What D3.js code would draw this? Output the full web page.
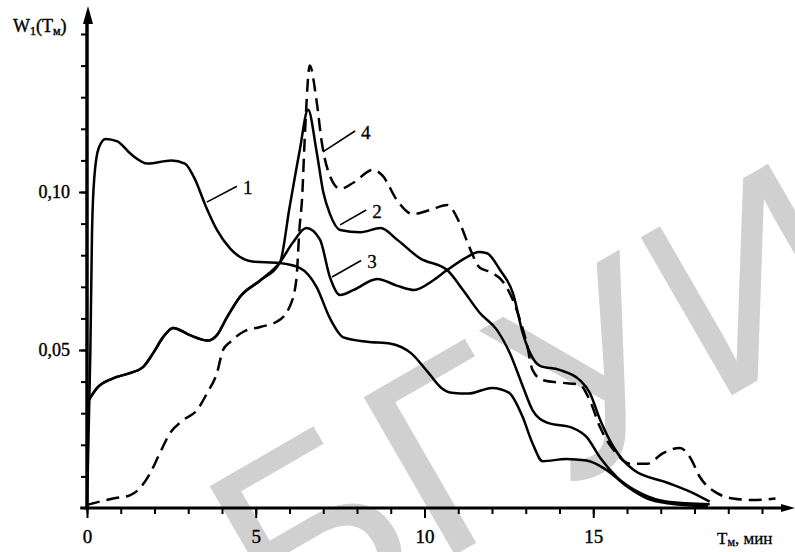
<!DOCTYPE html>
<html>
<head>
<meta charset="utf-8">
<script src="https://cdn.jsdelivr.net/npm/d3@7"></script>
<style>
  body { margin: 0; background: #fff; }
  svg { display: block; }
  text { font-family: "Liberation Serif", "Times New Roman", serif; fill: #000; }
</style>
</head>
<body>
<div class="chart"></div>
<script>
// Tick values
const xTicks = d3.range(0, 21, 1);
const xLabels = [0, 5, 10, 15];
const yTicks = d3.range(1, 16).map(d => d / 100);
const yLabels = [0.05, 0.10];

// Curves: [Tm, W1]
const curve1 = [[0, 0], [0.06, 0.03], [0.1, 0.05], [0.15, 0.088], [0.22, 0.105], [0.35, 0.114], [0.55, 0.1168],
  [0.9, 0.116], [1.3, 0.112], [1.8, 0.109], [2.5, 0.110], [2.9, 0.109], [3.2, 0.104], [3.5, 0.096],
  [3.85, 0.088], [4.25, 0.082], [4.9, 0.078], [5.7, 0.0775], [6.3, 0.076], [6.8, 0.070], [7.2, 0.060],
  [7.6, 0.054], [8.3, 0.0526], [9.0, 0.052], [9.6, 0.049], [10.1, 0.043], [10.5, 0.038], [10.8, 0.0365],
  [11.3, 0.0362], [12.0, 0.038], [12.5, 0.0365], [12.9, 0.029], [13.2, 0.0205], [13.5, 0.0148],
  [14.2, 0.0155], [14.8, 0.015], [15.4, 0.012], [16.0, 0.0068], [16.6, 0.003], [17.2, 0.0015], [18.4, 0.0005]];

const curve2 = [[0, 0.0332], [0.3, 0.038], [0.77, 0.041], [1.27, 0.0427], [1.66, 0.0446], [1.96, 0.049],
  [2.25, 0.054], [2.55, 0.057], [3.05, 0.0547], [3.58, 0.053], [3.85, 0.0547], [4.15, 0.0604],
  [4.53, 0.0668], [5.13, 0.072], [5.72, 0.0778], [6.0, 0.095], [6.3, 0.113], [6.55, 0.126],
  [6.8, 0.113], [7.0, 0.100], [7.2, 0.093], [7.5, 0.088], [8.1, 0.0873], [8.7, 0.0886], [9.2, 0.0848],
  [9.87, 0.079], [10.67, 0.0753], [11.14, 0.069], [11.64, 0.0617], [12.15, 0.0563], [12.53, 0.049],
  [12.92, 0.0383], [13.2, 0.031], [13.63, 0.027], [14.4, 0.0253], [14.8, 0.0225], [15.2, 0.016],
  [15.7, 0.0098], [16.4, 0.0047], [17.2, 0.002], [18.45, 0.0012]];

const curve3 = [[0, 0.0332], [0.3, 0.038], [0.77, 0.041], [1.27, 0.0427], [1.66, 0.0446], [1.96, 0.049],
  [2.25, 0.054], [2.55, 0.057], [3.05, 0.0547], [3.58, 0.053], [3.85, 0.0547], [4.15, 0.0604],
  [4.53, 0.0668], [5.13, 0.072], [5.72, 0.0778], [6.1, 0.084], [6.5, 0.0886], [6.9, 0.085],
  [7.2, 0.073], [7.5, 0.0674], [7.9, 0.069], [8.6, 0.0725], [9.2, 0.0703], [9.7, 0.069], [10.25, 0.072],
  [10.67, 0.0753], [11.26, 0.0794], [11.6, 0.081], [11.85, 0.0806], [12.24, 0.0753], [12.62, 0.068],
  [12.92, 0.055], [13.13, 0.049], [13.42, 0.045], [14.0, 0.0437], [14.6, 0.0405], [14.9, 0.0364],
  [15.2, 0.028], [15.6, 0.0193], [16.2, 0.012], [17.2, 0.008], [17.96, 0.0047], [18.45, 0.002]];

const curve4 = [[0, 0.001], [0.77, 0.003], [1.27, 0.004], [1.57, 0.0063], [1.87, 0.011], [2.16, 0.0174],
  [2.46, 0.0237], [2.85, 0.0278], [3.26, 0.031], [3.56, 0.0364], [3.85, 0.0427], [4.03, 0.05],
  [4.24, 0.0525], [4.62, 0.0557], [5.13, 0.0573], [5.63, 0.059], [6.0, 0.0636], [6.2, 0.072],
  [6.3, 0.089], [6.37, 0.0975], [6.46, 0.119], [6.6, 0.140], [6.8, 0.129], [6.96, 0.1155],
  [7.2, 0.105], [7.5, 0.101], [7.9, 0.103], [8.47, 0.107], [8.77, 0.105], [9.18, 0.0975],
  [9.66, 0.093], [10.16, 0.0943], [10.67, 0.0959], [11.05, 0.090], [11.35, 0.082], [11.64, 0.076],
  [11.94, 0.0747], [12.33, 0.0715], [12.62, 0.0658], [12.83, 0.0595], [13.03, 0.052], [13.2, 0.0437],
  [13.5, 0.0405], [14.1, 0.0396], [14.6, 0.039], [14.9, 0.034], [15.2, 0.0256], [15.6, 0.0184],
  [16.1, 0.014], [16.6, 0.014], [17.07, 0.0174], [17.57, 0.019], [17.87, 0.016], [18.16, 0.0098],
  [18.67, 0.0047], [19.14, 0.003], [19.73, 0.0025], [20.4, 0.003]];

// Curve labels: text, label position, pointer start
const labelNames = ["1", "2", "3", "4"];
const labelAt = [[4.62, 0.1015], [8.45, 0.094], [8.3, 0.078], [8.12, 0.119]];
const pointerFrom = [[3.55, 0.0968], [7.5, 0.0896], [7.26, 0.0731], [6.99, 0.1127]];

const width = 795, height = 552;

const svg = d3.select(".chart")
  .append("svg")
  .attr("width", width)
  .attr("height", height);

// Watermark in the background
svg.append("text")
  .attr("transform", "translate(282,655) rotate(-30)")
  .style("font-family", "'Liberation Sans', sans-serif")
  .style("font-size", "265px")
  .style("fill", "#d0d0d0")
  .attr("letter-spacing", 4)
  .text("БГУИР");

const x = d3.scaleLinear().domain([0, 20]).range([87, 762]);
const y = d3.scaleLinear().domain([0, 0.10]).range([508, 192]);

// Minor ticks
svg.append("g")
  .attr("transform", `translate(0,${y(0)})`)
  .call(d3.axisBottom(x).tickValues(xTicks).tickSize(6).tickFormat(""))
  .call(g => g.select(".domain").remove())
  .call(g => g.selectAll("line").attr("stroke-width", 2));

svg.append("g")
  .attr("transform", `translate(${x(0)},0)`)
  .call(d3.axisLeft(y).tickValues(yTicks).tickSize(6).tickFormat(""))
  .call(g => g.select(".domain").remove())
  .call(g => g.selectAll("line").attr("stroke-width", 2));

// Major ticks with labels
svg.append("g")
  .attr("transform", `translate(0,${y(0)})`)
  .call(d3.axisBottom(x).tickValues(xLabels).tickSize(10).tickPadding(12).tickFormat(d3.format("d")))
  .call(g => g.select(".domain").remove())
  .call(g => g.selectAll("line").attr("stroke-width", 2))
  .call(g => g.selectAll("text").style("font-size", "19px").style("font-family", "'Liberation Serif', serif")
    .attr("stroke", "#000").attr("stroke-width", 0.4));

svg.append("g")
  .attr("transform", `translate(${x(0)},0)`)
  .call(d3.axisLeft(y).tickValues(yLabels).tickSize(8).tickPadding(9)
    .tickFormat(d => d.toFixed(2).replace(".", ",")))
  .call(g => g.select(".domain").remove())
  .call(g => g.selectAll("line").attr("stroke-width", 2))
  .call(g => g.selectAll("text").style("font-size", "18px").style("font-family", "'Liberation Serif', serif")
    .attr("stroke", "#000").attr("stroke-width", 0.4));

// Axis lines with arrows
svg.append("line")
  .attr("x1", x(-0.2)).attr("x2", 789)
  .attr("y1", y(0)).attr("y2", y(0))
  .attr("stroke", "#000").attr("stroke-width", 3);
svg.append("path")
  .attr("d", `M795,${y(0)} L781,${y(0) - 4} L781,${y(0) + 4} Z`)
  .attr("fill", "#000");

svg.append("line")
  .attr("x1", x(0)).attr("x2", x(0))
  .attr("y1", y(0) + 2).attr("y2", 18)
  .attr("stroke", "#000").attr("stroke-width", 3.5);
svg.append("path")
  .attr("d", `M${x(0) + 1},6 L${x(0) - 4},24 L${x(0) + 6},24 Z`)
  .attr("fill", "#000");

// Axis titles
const yTitle = svg.append("text")
  .attr("x", 13).attr("y", 32)
  .style("font-size", "18px")
  .attr("stroke", "#000").attr("stroke-width", 0.4);
yTitle.append("tspan").text("W");
yTitle.append("tspan").attr("dy", 3).style("font-size", "12px").text("1");
yTitle.append("tspan").attr("dy", -3).text("(Т");
yTitle.append("tspan").attr("dy", 3).style("font-size", "12px").text("м");
yTitle.append("tspan").attr("dy", -3).text(")");

const xTitle = svg.append("text")
  .attr("x", 717).attr("y", 544)
  .style("font-size", "17px")
  .attr("stroke", "#000").attr("stroke-width", 0.3);
xTitle.append("tspan").text("Т");
xTitle.append("tspan").attr("dy", 2).style("font-size", "12px").text("м");
xTitle.append("tspan").attr("dy", -2).text(", мин");

// Curves
const line = d3.line()
  .curve(d3.curveMonotoneX)
  .x(d => x(d[0]))
  .y(d => y(d[1]));

const curves = [curve1, curve2, curve3, curve4];
svg.append("g")
  .selectAll("path")
  .data(curves)
  .join("path")
  .attr("fill", "none")
  .attr("stroke", "#000")
  .attr("stroke-width", 2.5)
  .attr("stroke-linejoin", "round")
  .attr("stroke-dasharray", (d, i) => i === 3 ? "13,7" : null)
  .attr("d", line);

// Curve labels with pointer lines
const labels = svg.append("g");
labels.selectAll("line")
  .data(labelNames)
  .join("line")
  .attr("x1", (d, i) => x(pointerFrom[i][0]))
  .attr("y1", (d, i) => y(pointerFrom[i][1]))
  .attr("x2", (d, i) => x(labelAt[i][0]) - 6)
  .attr("y2", (d, i) => y(labelAt[i][1]) - 1)
  .attr("stroke", "#000")
  .attr("stroke-width", 1.6);

labels.selectAll("text")
  .data(labelNames)
  .join("text")
  .attr("x", (d, i) => x(labelAt[i][0]))
  .attr("y", (d, i) => y(labelAt[i][1]))
  .attr("dy", "0.35em")
  .style("font-size", "19px")
  .attr("stroke", "#000").attr("stroke-width", 0.3)
  .text(d => d);
</script>
</body>
</html>
